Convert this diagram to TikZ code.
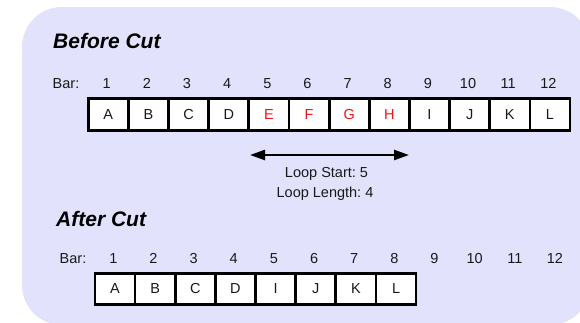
\documentclass[tikz,border=0pt]{standalone}
\usepackage{fontspec}
\setmainfont{Liberation Sans}
\usetikzlibrary{arrows.meta}
\definecolor{bgcol}{RGB}{226,226,253}
\definecolor{txt}{RGB}{25,25,25}
\definecolor{hot}{RGB}{240,20,20}
\tikzset{
  cell/.style={draw=black, line width=2.6pt, fill=white, minimum width=40pt, minimum height=32pt, inner sep=0pt, text height=10.4pt, text depth=0pt, font=\fontsize{14.5}{16}\selectfont, text=txt},
  hotcell/.style={cell, text=hot},
  lbl/.style={inner sep=0pt, anchor=base, font=\fontsize{14.5}{16}\selectfont\frenchspacing, text=txt},
  title/.style={inner sep=0pt, anchor=base west, font=\fontsize{21}{24}\selectfont\bfseries\itshape, text=black},
  loop/.style={line width=2.3pt, {Triangle[length=15pt,width=10pt]}-{Triangle[length=15pt,width=10pt]}}
}
\begin{document}
\begin{tikzpicture}[x=1pt,y=-1pt]
\useasboundingbox (0,0) rectangle (580,322);
\clip (0,0) rectangle (580,322);
\fill[bgcol, rounded corners=40pt] (22,7) rectangle (590,325);

% Before cut
\node[title] (t1) at (53,48) {Before Cut};
\node[lbl] (bar1) at (66,88) {Bar:};
\foreach \i in {1,...,12} {
  \node[lbl] (n\i) at ({106.7+40.15*(\i-1)},88) {\i};
}
\foreach \i/\l in {1/A,2/B,3/C,4/D,9/I,10/J,11/K,12/L} {
  \node[cell] (c\i) at ({108.3+40.15*(\i-1)},114.5) {\l};
}
\foreach \i/\l in {5/E,6/F,7/G,8/H} {
  \node[hotcell] (c\i) at ({108.3+40.15*(\i-1)},114.5) {\l};
}

% loop arrow
\coordinate (la) at (250,155);
\coordinate (lb) at (409,155);
\draw[loop] (la) -- (lb);
\node[lbl] (ls) at (326.5,177.3) {Loop Start: 5};
\node[lbl] (ll) at (325,197.3) {Loop Length: 4};

% After cut
\node[title] (t2) at (56,226.7) {After Cut};
\node[lbl] (bar2) at (73,263.5) {Bar:};
\foreach \i in {1,...,12} {
  \node[lbl] (m\i) at ({113.3+40.15*(\i-1)},263.5) {\i};
}
\foreach \i/\l in {1/A,2/B,3/C,4/D,5/I,6/J,7/K,8/L} {
  \node[cell, minimum height=31pt] (d\i) at ({115+40.15*(\i-1)},288.7) {\l};
}
\end{tikzpicture}
\end{document}
